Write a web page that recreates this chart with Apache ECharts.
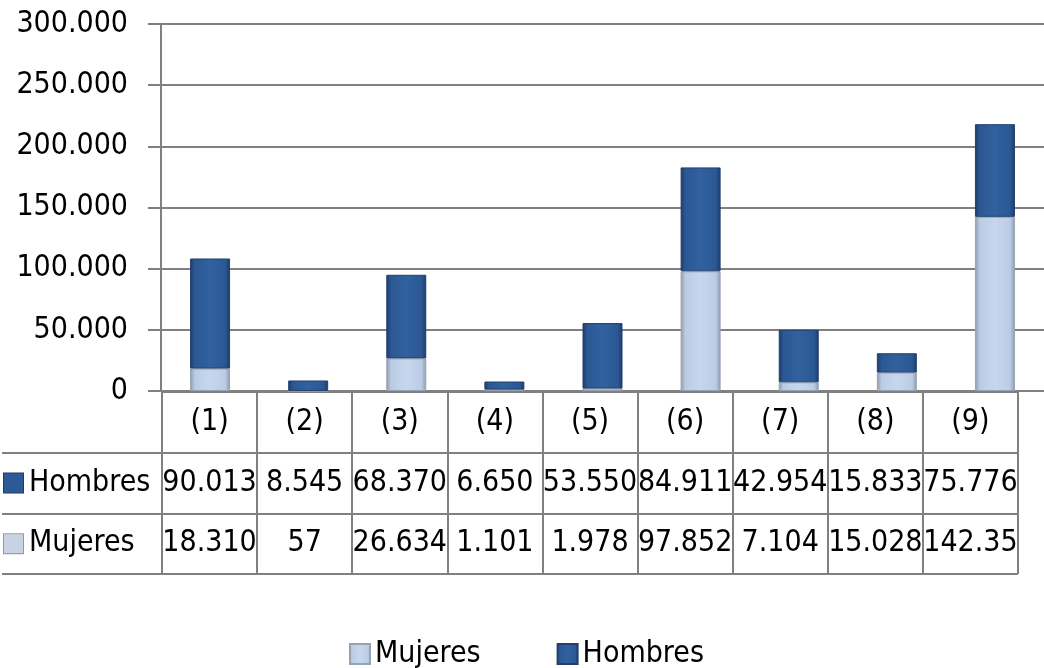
<!DOCTYPE html>
<html>
<head>
<meta charset="utf-8">
<title>Hombres / Mujeres</title>
<script src="https://cdn.jsdelivr.net/npm/echarts@6/dist/echarts.min.js"></script>
<style>
  html, body { margin: 0; padding: 0; background: #fff; }
  #chart { width: 1044px; height: 668px; }
</style>
</head>
<body>
<div id="chart"></div>
<script>
const categories = ['(1)', '(2)', '(3)', '(4)', '(5)', '(6)', '(7)', '(8)', '(9)']
const hombres = [90013, 8545, 68370, 6650, 53550, 84911, 42954, 15833, 75776]
const mujeres = [18310, 57, 26634, 1101, 1978, 97852, 7104, 15028, 142350]
const tableRows = ['', 'Hombres', 'Mujeres']
const yMax = 300000
const yStep = 50000

const lineColor = '#808080'
const font = '"DejaVu Sans Condensed", "Liberation Sans", Arial, sans-serif'
const fontSize = 30

// separador de miles con punto
const fmt = v => String(v).replace(/\B(?=(\d{3})+(?!\d))/g, '.')

const hombresColor = new echarts.graphic.LinearGradient(0, 0, 1, 0, [
  { offset: 0, color: '#1E3B68' },
  { offset: 0.12, color: '#2B5893' },
  { offset: 0.5, color: '#31619F' },
  { offset: 0.88, color: '#2B5893' },
  { offset: 1, color: '#1E3B68' }
])

const mujeresColor = new echarts.graphic.LinearGradient(0, 0, 1, 0, [
  { offset: 0, color: '#8E99A8' },
  { offset: 0.12, color: '#BACCE5' },
  { offset: 0.5, color: '#C7D7ED' },
  { offset: 0.88, color: '#BACCE5' },
  { offset: 1, color: '#8E99A8' }
])

// celdas de la tabla: [columna, fila, texto]
const cells = []
categories.forEach((c, i) => {
  cells.push([i, 0, c])
  cells.push([i, 1, fmt(hombres[i])])
  cells.push([i, 2, fmt(mujeres[i])])
})

const option = {
  animation: false,
  backgroundColor: '#fff',
  textStyle: { fontFamily: font },
  grid: [
    { left: 161, right: 0, top: 24, height: 367 },
    { left: 160, right: 26, top: 392, height: 182 }
  ],
  legend: {
    data: ['Mujeres', 'Hombres'],
    left: 349,
    top: 639,
    padding: 0,
    icon: 'rect',
    itemWidth: 20,
    itemHeight: 20,
    itemGap: 76,
    textStyle: { fontSize: fontSize, color: '#000', fontFamily: font }
  },
  xAxis: [
    {
      gridIndex: 0,
      type: 'category',
      data: categories,
      axisLine: { lineStyle: { color: lineColor, width: 2 } },
      axisTick: { show: false },
      axisLabel: { show: false }
    },
    {
      gridIndex: 1,
      type: 'category',
      data: categories,
      axisLine: { show: false },
      axisTick: { show: false },
      axisLabel: { show: false },
      splitLine: { show: true, interval: 0, lineStyle: { color: lineColor, width: 2 } }
    }
  ],
  yAxis: [
    {
      gridIndex: 0,
      type: 'value',
      min: 0,
      max: yMax,
      interval: yStep,
      axisLine: { show: true, lineStyle: { color: lineColor, width: 2 } },
      axisTick: { show: true, length: 13, lineStyle: { color: lineColor, width: 2 } },
      axisLabel: { margin: 33, fontSize: fontSize, color: '#000', padding: [12, 0, 0, 0], formatter: fmt },
      splitLine: { lineStyle: { color: lineColor, width: 2 } }
    },
    {
      gridIndex: 1,
      type: 'category',
      data: tableRows,
      inverse: true,
      axisLine: { show: true, lineStyle: { color: lineColor, width: 2 } },
      axisTick: {
        show: true,
        length: 160,
        interval: i => i > 0,
        lineStyle: { color: lineColor, width: 2 }
      },
      axisLabel: {
        align: 'left',
        margin: 158,
        interval: 0,
        formatter: v => {
          if (!v) return ''
          const key = v === 'Hombres' ? 'h' : 'm'
          return '{' + key + '|}{t|' + v + '}'
        },
        rich: {
          h: { width: 19, height: 19, backgroundColor: '#2C5A96', borderColor: '#1E3B68', borderWidth: 1 },
          m: { width: 19, height: 19, backgroundColor: '#C8D3E2', borderColor: '#8E99A8', borderWidth: 1 },
          t: { fontSize: fontSize, color: '#000', padding: [0, 0, 0, 6], fontFamily: font }
        }
      },
      splitLine: { show: true, interval: 0, lineStyle: { color: lineColor, width: 2 } }
    }
  ],
  series: [
    {
      name: 'Mujeres',
      type: 'bar',
      stack: 'total',
      barWidth: 40,
      itemStyle: { color: mujeresColor, borderColor: '#98A3B2', borderWidth: 1 },
      data: mujeres
    },
    {
      name: 'Hombres',
      type: 'bar',
      stack: 'total',
      barWidth: 40,
      itemStyle: { color: hombresColor, borderColor: '#22406E', borderWidth: 1 },
      data: hombres
    },
    {
      name: 'tabla',
      type: 'scatter',
      xAxisIndex: 1,
      yAxisIndex: 1,
      symbolSize: 1,
      itemStyle: { color: 'rgba(0,0,0,0)', opacity: 1 },
      silent: true,
      label: {
        show: true,
        position: 'inside',
        fontSize: fontSize,
        color: '#000',
        fontFamily: font,
        width: 100,
        overflow: 'truncate',
        ellipsis: '',
        formatter: p => p.value[2]
      },
      data: cells
    }
  ]
}

const myChart = echarts.init(document.getElementById('chart'))
myChart.setOption(option)
</script>
</body>
</html>
